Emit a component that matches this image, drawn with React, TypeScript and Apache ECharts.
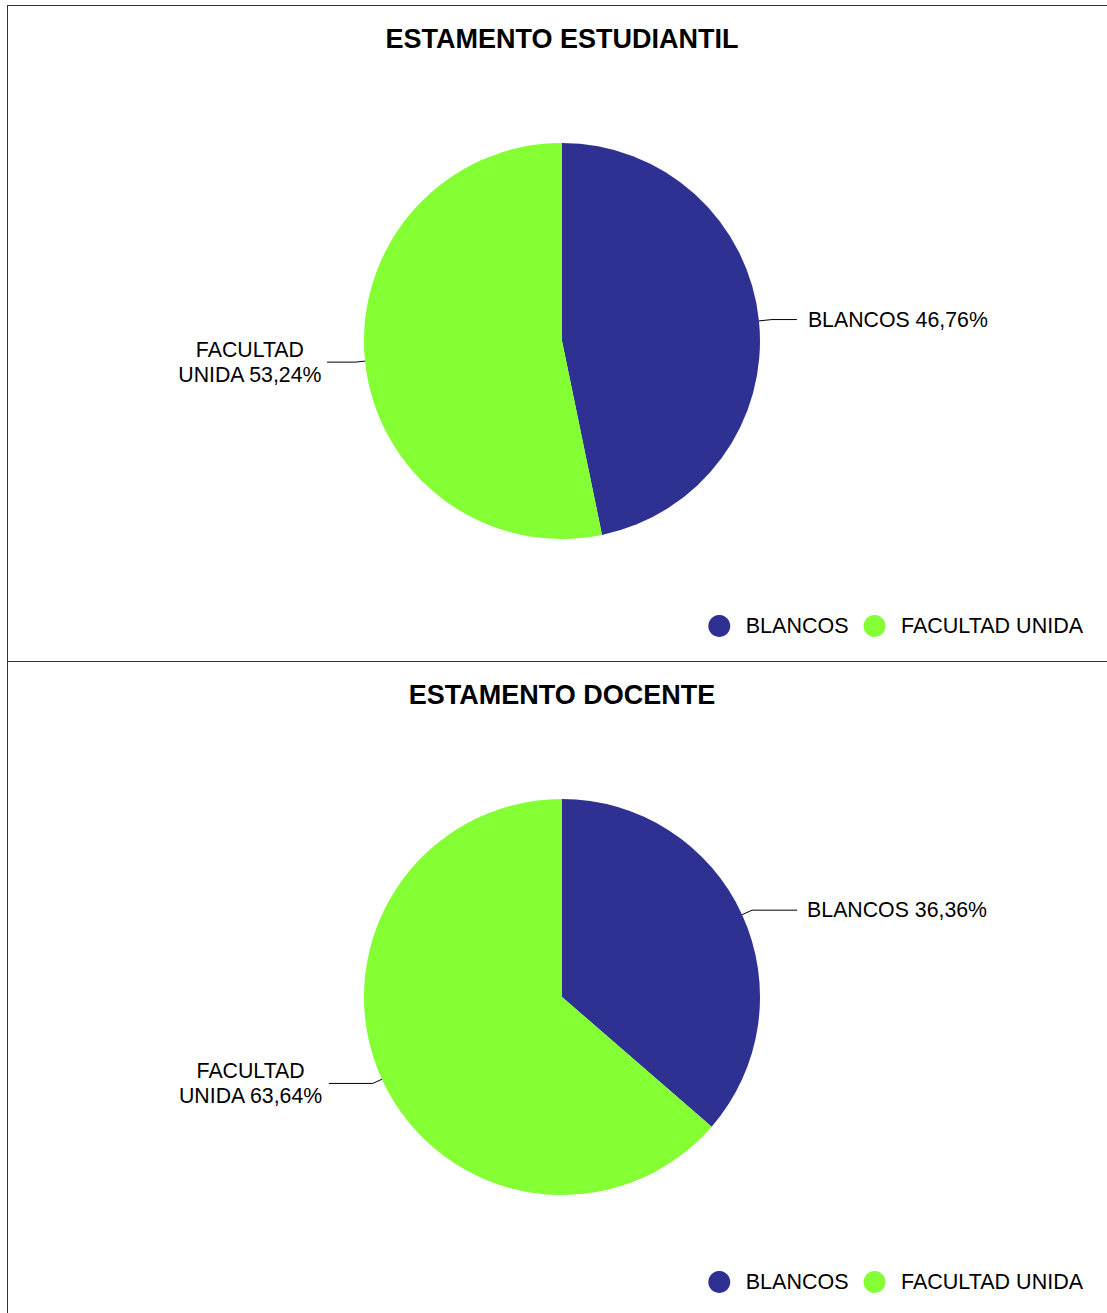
import React, { useEffect, useRef } from "react";
import * as echarts from "echarts";

const categories = ["BLANCOS", "FACULTAD UNIDA"];
const titles = ["ESTAMENTO ESTUDIANTIL", "ESTAMENTO DOCENTE"];
const estudiantilValues = [46.76, 53.24];
const docenteValues = [36.36, 63.64];
const colors = ["#2E3192", "#84FF33"];

const FONT = '"Liberation Sans", Arial, sans-serif';

function fmt(v: number) {
  return v.toFixed(2).replace(".", ",");
}

function buildOption(title: string, values: number[], lines: { length: number; length2: number; dist: number }[]) {
  return {
    animation: false,
    color: colors,
    title: {
      text: title,
      left: "center",
      top: 14,
      textStyle: { fontFamily: FONT, fontSize: 27, fontWeight: "bold", color: "#000" },
    },
    legend: {
      data: categories,
      icon: "circle",
      right: 33,
      bottom: 24,
      padding: 0,
      itemWidth: 43,
      itemHeight: 22,
      itemGap: 15,
      textStyle: { fontFamily: FONT, fontSize: 21.5, color: "#000" },
    },
    series: [
      {
        type: "pie",
        radius: 198,
        center: ["50%", 335],
        startAngle: 90,
        clockwise: true,
        data: categories.map((name, i) => ({
          name,
          value: values[i],
          labelLine: { length: lines[i].length, length2: lines[i].length2 },
          label: { distanceToLabelLine: lines[i].dist },
        })),
        label: {
          show: true,
          position: "outside",
          fontFamily: FONT,
          fontSize: 21.3,
          color: "#000",
          lineHeight: 25,
          formatter: (p: any) => {
            const pct = fmt(p.value) + "%";
            const words = String(p.name).split(" ");
            if (words.length > 1) {
              return "{c|" + words.slice(0, -1).join(" ") + "}\n{c|" + words[words.length - 1] + " " + pct + "}";
            }
            return "{c|" + p.name + " " + pct + "}";
          },
          rich: {
            c: { align: "center", fontFamily: FONT, fontSize: 21.3, color: "#000", lineHeight: 25 },
          },
        },
        labelLine: {
          show: true,
          lineStyle: { color: "#000", width: 1 },
        },
        itemStyle: { borderWidth: 0 },
        emphasis: { disabled: true },
      },
    ],
  };
}

function Chart({ option, style }: { option: any; style: React.CSSProperties }) {
  const ref = useRef<HTMLDivElement>(null);
  useEffect(() => {
    if (!ref.current) return;
    const chart = echarts.init(ref.current, undefined, { renderer: "svg" });
    chart.setOption(option);
    return () => chart.dispose();
  }, [option]);
  return <div ref={ref} style={style} />;
}

const opt1 = buildOption(titles[0], estudiantilValues, [
  { length: 13, length2: 25, dist: 11 },
  { length: 10, length2: 28, dist: 5 },
]);
const opt2 = buildOption(titles[1], docenteValues, [
  { length: 11, length2: 45, dist: 10 },
  { length: 10, length2: 44, dist: 6 },
]);

export default function App() {
  return (
    <div
      style={{
        position: "absolute",
        left: 7,
        top: 5,
        width: 1100,
        height: 1308,
        overflow: "hidden",
      }}
    >
      <div
        style={{
          borderTop: "1px solid #333",
          borderLeft: "1px solid #333",
          borderBottom: "1px solid #333",
          width: 1108,
          height: 655,
        }}
      >
        <Chart option={opt1} style={{ width: 1108, height: 655 }} />
      </div>
      <div style={{ borderLeft: "1px solid #333", width: 1108, height: 655 }}>
        <Chart option={opt2} style={{ width: 1108, height: 655 }} />
      </div>
    </div>
  );
}
